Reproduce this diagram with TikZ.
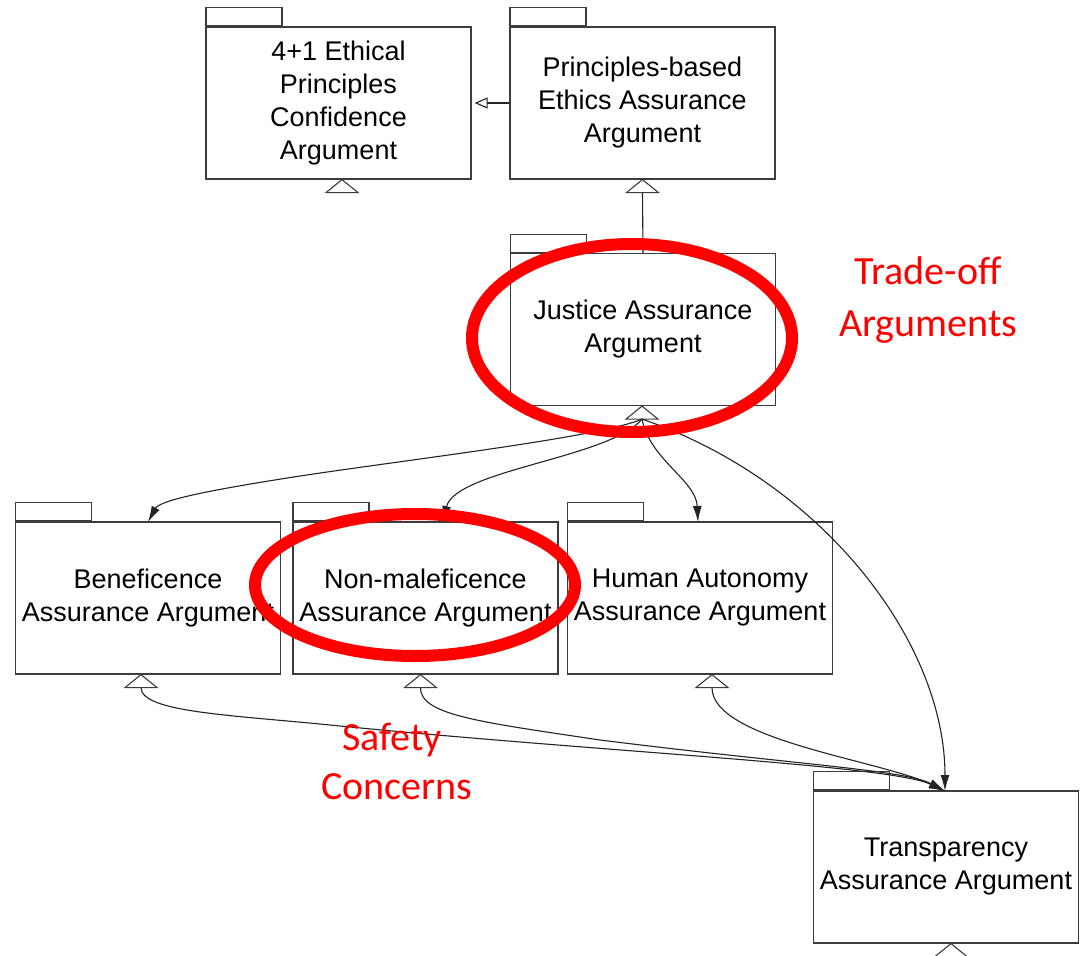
\documentclass[tikz,border=0pt]{standalone}
\usepackage{fontspec}
\setmainfont{Liberation Sans}
\newfontfamily\notefont{Carlito}
\usetikzlibrary{arrows.meta,calc}
\definecolor{boxgray}{RGB}{60,60,60}
\definecolor{linkgray}{RGB}{35,35,35}
\definecolor{markred}{RGB}{255,0,0}
\begin{document}
\begin{tikzpicture}[x=1pt,y=-1pt,
  pkg/.style={draw=boxgray, line width=1.2pt, fill=white, minimum width=265pt,
    minimum height=152pt, inner sep=0pt, align=center,
    font=\fontsize{27}{33}\selectfont},
  pkgtab/.style={draw=boxgray, line width=1.2pt, minimum width=76pt,
    minimum height=18pt, inner sep=0pt, anchor=south west},
  tri/.style={draw=boxgray, line width=1.1pt, fill=white, line join=miter},
  link/.style={draw=linkgray, line width=1.1pt},
  dep/.style={link, -{Latex[length=16pt,width=9pt]}},
  note/.style={text=markred, font=\notefont\fontsize{40}{50}\selectfont, anchor=base},
  ring/.style={draw=markred, line width=12pt}
]
\useasboundingbox (0,0) rectangle (1080,956);

% packages
\node[pkg] (conf)   at (338.5,103) {4+1 Ethical\\Principles\\Confidence\\Argument};
\node[pkg] (pbe)    at (642.5,103) {Principles-based\\Ethics Assurance\\Argument};
\node[pkg] (just)   at (643,329.5) {Justice Assurance\\Argument};
\node[pkg] (benef)  at (148,598)   {Beneficence\\Assurance Argument};
\node[pkg] (nonmal) at (425.5,598) {Non-maleficence\\Assurance Argument};
\node[pkg] (human)  at (700,598)   {Human Autonomy\\Assurance Argument};
\node[pkg] (transp) at (946,867)   {Transparency\\Assurance Argument};

% package tabs
\foreach \n in {conf,pbe,just,benef,nonmal,human,transp}{
  \node[pkgtab] (\n-tab) at (\n.north west) {};
}

% import triangles below each package (name / horizontal offset)
\foreach \n/\dx in {conf/3.5,pbe/0,just/-1,benef/-7,nonmal/-5,human/12,transp/5}{
  \draw[tri] ($(\n.south)+(\dx,0)$) -- ++(-16,13) -- ++(32,0) -- cycle;
  \coordinate (\n-b) at ($(\n.south)+(\dx,13)$);
}

% principles-based argument -> confidence argument
\draw[link, -{Triangle[open,length=13pt,width=11pt]}, shorten >=3pt]
  (pbe.west) -- (conf.east);

% justice -> principles-based
\draw[link] (just.north) -- (pbe-b);

% entry points on the package tops
\coordinate (benef-in) at (148,522);
\coordinate (nonmal-in) at (443,522);
\coordinate (human-in) at (698,522);
\coordinate (transp-in) at (945,791);

% justice fan-out
\draw[dep] (just-b) .. controls (600,437) and (420,458) .. (300,476)
  .. controls (210,490) and (160,500) .. (benef-in);
\draw[dep] (just-b) .. controls (610,458) and (455,470) .. (nonmal-in);
\draw[dep] (just-b) .. controls (650,460) and (696,480) .. (human-in);
\draw[dep] (just-b) .. controls (820,480) and (945,640) .. (transp-in);

% lower packages -> transparency
\draw[dep] (benef-b) .. controls (141,712) and (230,715) .. (330,725)
  .. controls (600,752) and (890,765) .. (transp-in);
\draw[dep] (nonmal-b) .. controls (420,715) and (480,722) .. (600,740)
  .. controls (800,765) and (905,770) .. (transp-in);
\draw[dep] (human-b) .. controls (712,740) and (880,760) .. (transp-in);

% highlight rings
\draw[ring] (632,338) ellipse [x radius=160pt, y radius=94pt];
\draw[ring] (415,585) ellipse [x radius=160pt, y radius=71pt];

% notes
\node[note] (tradeoff) at (928,284) {Trade-off};
\node[note] (tradeargs) at (928,336) {Arguments};
\node[note] (safety) at (392,750) {Safety};
\node[note] (concerns) at (397,799) {Concerns};
\end{tikzpicture}
\end{document}
